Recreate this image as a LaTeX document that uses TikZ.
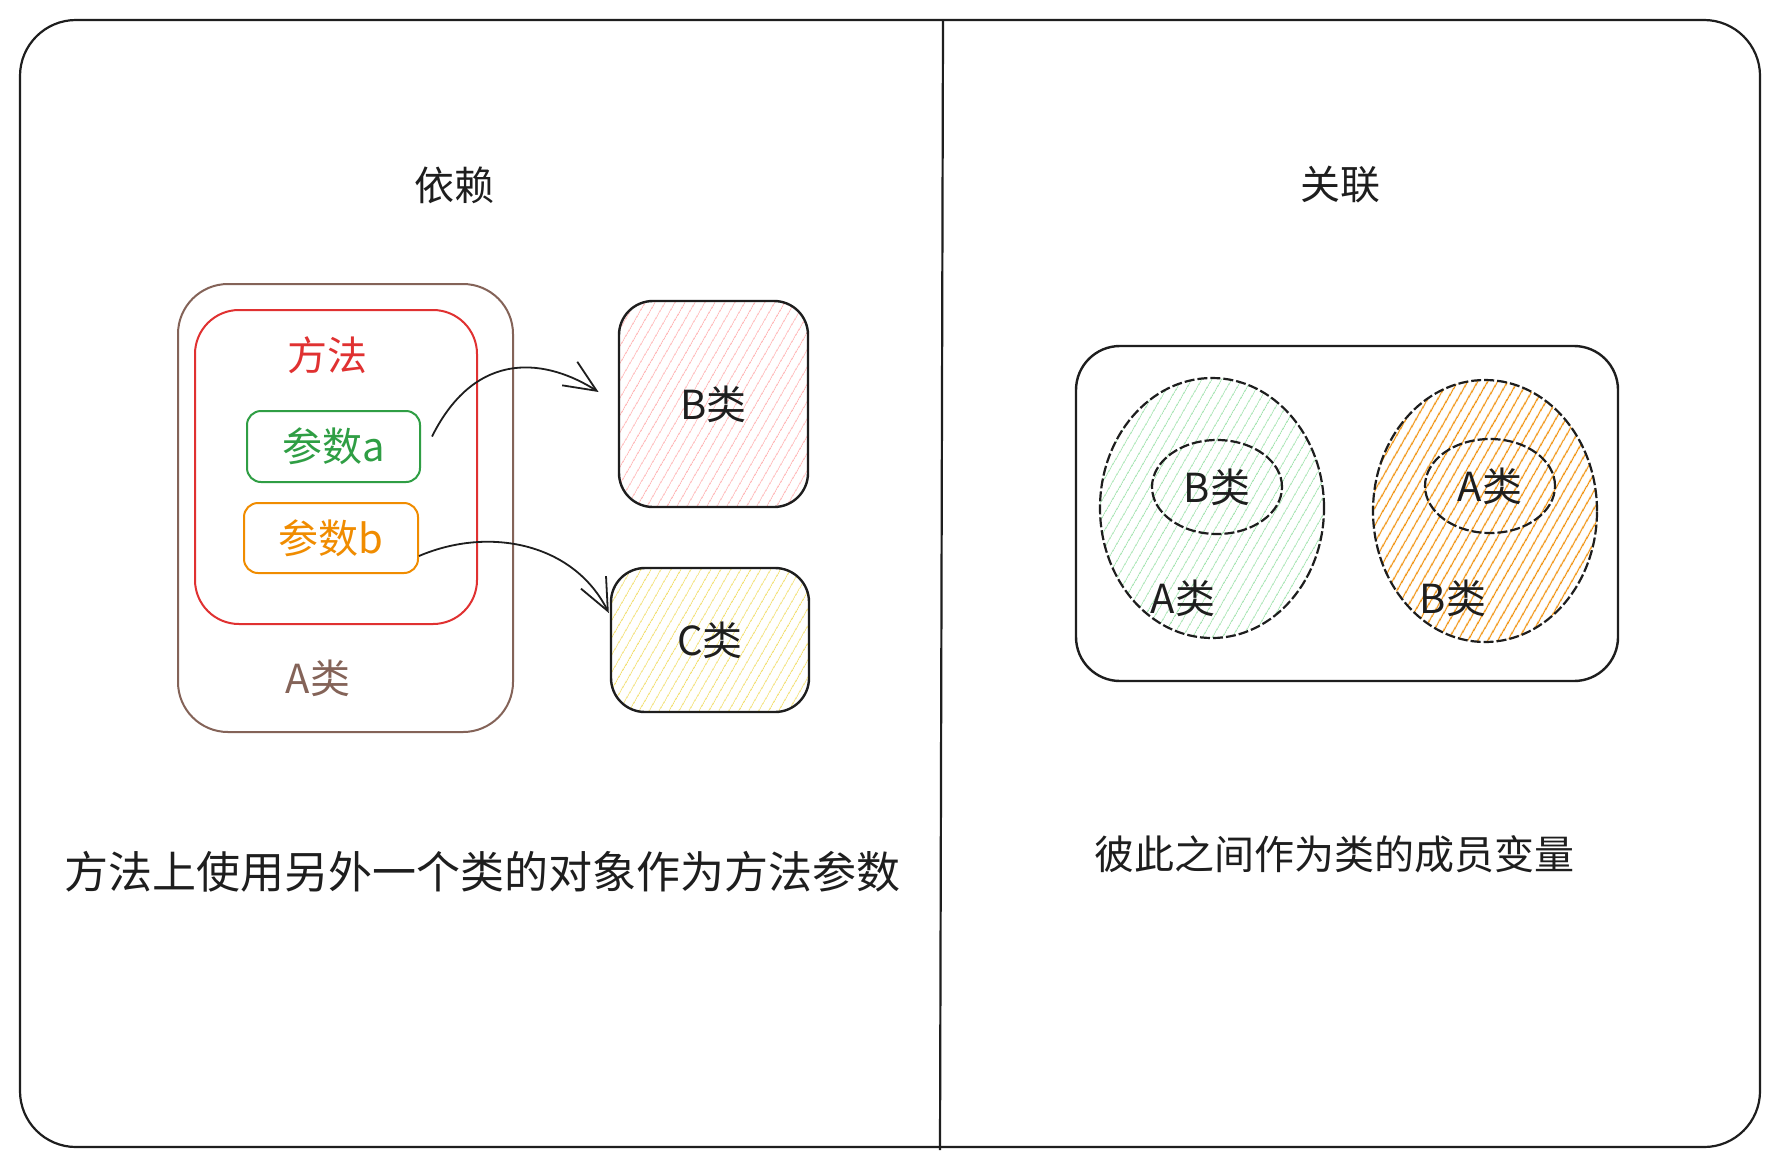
\documentclass[tikz,border=0pt]{standalone}
\usepackage{fontspec}
\newfontfamily\cjk{Noto Sans CJK SC}
\usetikzlibrary{patterns.meta,arrows.meta,calc,shapes.geometric}
\definecolor{ink}{HTML}{1E1E1E}
\definecolor{brownc}{HTML}{846358}
\definecolor{redc}{HTML}{E03131}
\definecolor{greenc}{HTML}{2F9E44}
\definecolor{orangec}{HTML}{F08C00}
\definecolor{pinkh}{HTML}{FFB3B3}
\definecolor{yellowh}{HTML}{F2DE6A}
\definecolor{greenh}{HTML}{9FE3AC}
\definecolor{orangeh}{HTML}{F08C00}
\tikzset{
  txt/.style={inner sep=0pt, text=ink, font=\cjk\fontsize{20}{24}\selectfont},
  bigtxt/.style={txt, font=\cjk\fontsize{22}{26}\selectfont},
  rbox/.style={draw, rectangle, line width=1pt},
  arr/.style={draw=ink, line width=0.9pt, -{Straight Barb[length=16pt,width=14pt,line width=0.9pt]}},
  hatch/.style={pattern={Lines[angle=60,distance=4pt,line width=0.45pt]}, pattern color=#1},
  dsh/.style={draw=ink, line width=1.1pt, dash pattern=on 5pt off 1.5pt},
}
\begin{document}
\begin{tikzpicture}[x=0.5pt,y=-0.5pt]
\useasboundingbox (0,0) rectangle (1780,1167);
\fill[white] (0,0) rectangle (1780,1167);
% frame and divider
\draw[ink, line width=1.1pt, rounded corners=28pt] (20,20) rectangle (1760,1147);
\draw[ink, line width=1.1pt] (943,20) -- (940,1150);
% titles
\node[txt] (t1) at (454,185) {依赖};
\node[txt] (t2) at (1340,185) {关联};
% left panel
\node[rbox, draw=brownc, rounded corners=25pt, minimum width=167.5pt, minimum height=224pt] (Aout) at (345.5,508) {};
\node[rbox, draw=redc, rounded corners=22pt, minimum width=141pt, minimum height=157pt] (meth) at (336,467) {};
\node[txt, text=redc] (methl) at (327,355) {方法};
\node[rbox, draw=greenc, rounded corners=7pt, minimum width=86.5pt, minimum height=35.5pt, txt, text=greenc] (pa) at (333.5,446.5) {参数a};
\node[rbox, draw=orangec, rounded corners=7pt, minimum width=87pt, minimum height=35pt, txt, text=orangec] (pb) at (331,538) {参数b};
\node[txt, text=brownc] (Al) at (318,678) {A类};
\node[rbox, draw=ink, line width=1.2pt, rounded corners=17pt, minimum width=94.5pt, minimum height=103pt, hatch=pinkh, txt] (B) at (713.5,404) {B类};
\node[rbox, draw=ink, line width=1.2pt, rounded corners=17pt, minimum width=99pt, minimum height=72pt, hatch=yellowh, txt] (C) at (710,640) {C类};
\draw[arr] ($(pa.east)+(11,-10)$) .. controls +(45,-90) and +(-50,-32) .. ($(B.west)+(-20,-12)$);
\draw[arr] ($(pb.east)+(0,18)$) .. controls +(70,-30) and +(-35,-70) .. ($(C.west)+(-1,-27)$);
\node[bigtxt] (d1) at (482,872) {方法上使用另外一个类的对象作为方法参数};
% right panel
\node[rbox, draw=ink, line width=1.2pt, rounded corners=22pt, minimum width=271pt, minimum height=167.5pt] (cont) at (1347,513.5) {};
\node[ellipse, dsh, hatch=greenh, minimum width=112pt, minimum height=130pt] (e1) at (1212,508) {};
\node[ellipse, dsh, minimum width=65pt, minimum height=47pt, txt] (i1) at (1217,487) {B类};
\node[txt] (e1l) at (1183,598) {A类};
\node[ellipse, dsh, pattern={Lines[angle=60,distance=4pt,line width=0.7pt]}, pattern color=orangeh, minimum width=112pt, minimum height=131pt] (e2) at (1485,511) {};
\node[ellipse, dsh, minimum width=65pt, minimum height=47pt, txt] (i2) at (1490,486) {A类};
\node[txt] (e2l) at (1453,598) {B类};
\node[txt] (d2) at (1334,854) {彼此之间作为类的成员变量};
\end{tikzpicture}
\end{document}
